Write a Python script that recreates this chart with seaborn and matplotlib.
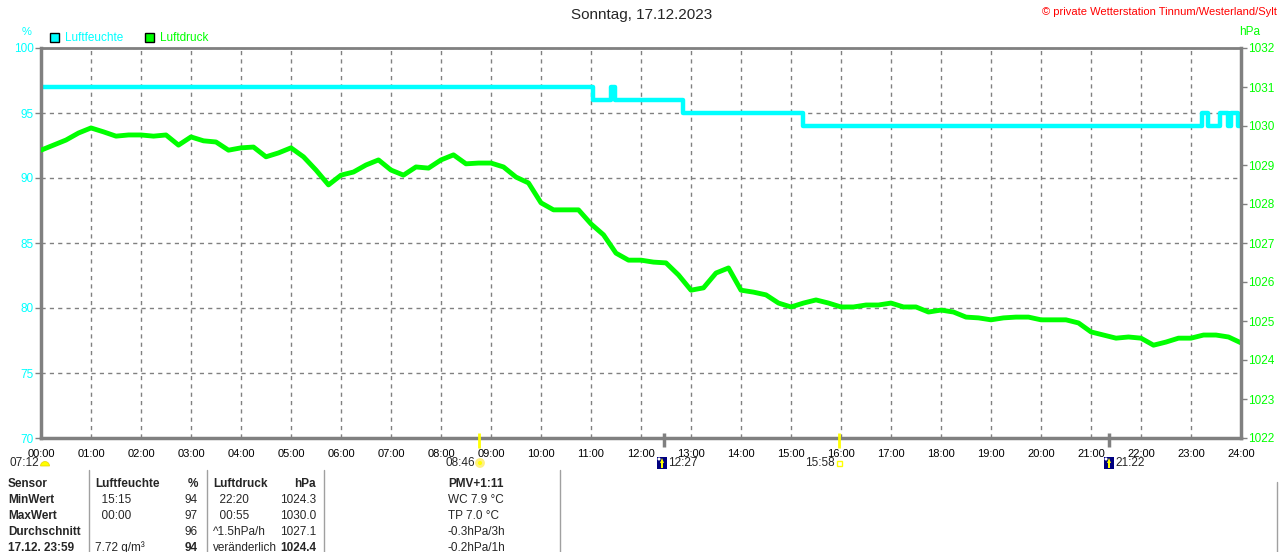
import seaborn as sns
import matplotlib.pyplot as plt
from matplotlib.patches import Rectangle, Wedge, Circle, Polygon

# Luftdruck alle 15 Minuten (hPa), 00:00 ... 24:00
druck_hpa = [
    1029.38, 1029.51, 1029.64, 1029.82,   # 00
    1029.95, 1029.85, 1029.74, 1029.77,   # 01
    1029.77, 1029.74, 1029.77, 1029.51,   # 02
    1029.72, 1029.62, 1029.59, 1029.38,   # 03
    1029.44, 1029.46, 1029.21, 1029.31,   # 04
    1029.44, 1029.21, 1028.87, 1028.49,   # 05
    1028.74, 1028.82, 1029.00, 1029.13,   # 06
    1028.87, 1028.74, 1028.95, 1028.92,   # 07
    1029.13, 1029.26, 1029.03, 1029.05,   # 08
    1029.05, 1028.95, 1028.69, 1028.54,   # 09
    1028.03, 1027.85, 1027.85, 1027.85,   # 10
    1027.49, 1027.21, 1026.74, 1026.56,   # 11
    1026.56, 1026.51, 1026.49, 1026.18,   # 12
    1025.79, 1025.85, 1026.23, 1026.36,   # 13
    1025.79, 1025.74, 1025.67, 1025.46,   # 14
    1025.36, 1025.46, 1025.54, 1025.46,   # 15
    1025.36, 1025.36, 1025.41, 1025.41,   # 16
    1025.46, 1025.36, 1025.36, 1025.23,   # 17
    1025.28, 1025.23, 1025.10, 1025.08,   # 18
    1025.03, 1025.08, 1025.10, 1025.10,   # 19
    1025.03, 1025.03, 1025.03, 1024.95,   # 20
    1024.72, 1024.64, 1024.56, 1024.59,   # 21
    1024.56, 1024.38, 1024.46, 1024.56,   # 22
    1024.56, 1024.64, 1024.64, 1024.59,   # 23
    1024.44,                              # 24
]
druck_zeit = [i / 4 for i in range(len(druck_hpa))]

# Luftfeuchte als Stufen (Stunde, %)
feuchte_zeit = [0.0, 11.03, 11.40, 11.47, 12.83, 15.23, 23.22, 23.34, 23.58, 23.74, 23.80, 23.94, 24.0]
feuchte_wert = [97, 96, 97, 96, 95, 94, 95, 94, 95, 94, 95, 94, 94]

stunden = list(range(25))
stunden_labels = [f"{h:02d}:00" for h in stunden]
feuchte_ticks = [70, 75, 80, 85, 90, 95, 100]
druck_ticks = list(range(1022, 1033))

# Sonne / Mond (Stunden)
sonne_auf = 8 + 46 / 60
sonne_unter = 15 + 58 / 60
mond_auf = 12 + 27 / 60
mond_unter = 21 + 22 / 60

CYAN = "#00ffff"
GRUEN = "#00ff00"
GRAU = "#808080"

sns.set_style("white")
plt.rcParams['font.family'] = ['Liberation Sans', 'DejaVu Sans']

W, H = 1280, 552

fig = plt.figure(figsize=(12.8, 5.52), dpi=100)
ax = fig.add_axes([41 / W, 1 - 438 / H, 1200 / W, 390 / H])
ax2 = ax.twinx()

sns.lineplot(x=feuchte_zeit, y=feuchte_wert, ax=ax, color=CYAN, lw=3.2,
             drawstyle="steps-post", estimator=None)
sns.lineplot(x=druck_zeit, y=druck_hpa, ax=ax2, color=GRUEN, lw=3.5, estimator=None)

ax.set_xlim(0, 24)
ax.set_ylim(70, 100)
ax2.set_ylim(1022, 1032)
ax.set_xticks(stunden)
ax.set_xticklabels(stunden_labels)
ax.set_yticks(feuchte_ticks)
ax2.set_yticks(druck_ticks)
ax.set_xlabel("")
ax.set_ylabel("")
ax2.set_ylabel("")

ax.grid(True, color=GRAU, ls=(0, (3, 3)), lw=1)
ax.tick_params(axis='x', length=0, pad=8, labelsize=8, labelcolor='black')
ax.tick_params(axis='y', length=4, width=1, color=GRAU, pad=1, labelsize=8.5, labelcolor=CYAN)
ax2.tick_params(axis='y', length=4, width=1, color=GRAU, pad=1, labelsize=8.5, labelcolor=GRUEN)

for name, s in ax.spines.items():
    s.set_color(GRAU)
    s.set_linewidth(2.5 if name != 'top' else 2)
ax.spines['right'].set_visible(False)
for name, s in ax2.spines.items():
    s.set_visible(name == 'right')
    s.set_color(GRAU)
    s.set_linewidth(2.5)

# Markierungen Sonne (gelb) und Mond (grau) auf der Zeitachse
xtrans = ax.get_xaxis_transform()
ax.vlines([sonne_auf, sonne_unter], -0.026, 0.013, colors="#ffff00", lw=2,
          transform=xtrans, clip_on=False, zorder=5)
ax.vlines([mond_auf, mond_unter], -0.024, 0.013, colors=GRAU, lw=2.5,
          transform=xtrans, clip_on=False, zorder=5)

# Overlay in Pixelkoordinaten fuer Texte und Symbole
ov = fig.add_axes([0, 0, 1, 1], zorder=10)
ov.set_xlim(0, W)
ov.set_ylim(H, 0)
ov.axis('off')
ov.patch.set_visible(False)

# Kopf
ov.text(642, 15, "Sonntag, 17.12.2023", ha='center', va='center', fontsize=11)
ov.text(1277, 12, "\u00a9 private Wetterstation Tinnum/Westerland/Sylt",
        ha='right', va='center', color='red', fontsize=8)
ov.text(27, 32, "%", ha='center', va='center', color=CYAN, fontsize=8)
ov.text(1250, 32, "hPa", ha='center', va='center', color=GRUEN, fontsize=8.5)

# Legende
for x0, col, lab in [(50, CYAN, "Luftfeuchte"), (145, GRUEN, "Luftdruck")]:
    ov.add_patch(Rectangle((x0, 33), 9, 9, fc=col, ec='black', lw=1))
    ov.text(x0 + 15, 38, lab, ha='left', va='center', color=col, fontsize=8.5)

# Zeiten Sonne / Mond unter der Achse
ev_y = 463
ov.text(9, ev_y, "07:12", ha='left', va='center', fontsize=8.5)
ov.add_patch(Wedge((45, 466), 4.5, 180, 360, fc="#ffff00", ec="#e8d000", lw=0.5))
ov.text(445, ev_y, "08:46", ha='left', va='center', fontsize=8.5)
ov.add_patch(Circle((480, 463), 3.5, fc="#ffff00", ec="#fff080", lw=2))
for x0, txt in [(657, "12:27"), (1104, "21:22")]:
    ov.add_patch(Rectangle((x0, 457), 10, 12, fc="#000080", ec="none"))
    ov.add_patch(Circle((x0 + 2, 459), 1.5, fc="white", ec="none"))
    ov.add_patch(Polygon([(x0 + 3, 463), (x0 + 7, 463), (x0 + 5, 458)],
                         closed=True, fc="#ffff00", ec="none"))
    ov.add_patch(Rectangle((x0 + 4.3, 462), 1.5, 6, fc="#ffff00", ec="none"))
    ov.text(x0 + 11, ev_y, txt, ha='left', va='center', fontsize=8.5)
ov.text(805, ev_y, "15:58", ha='left', va='center', fontsize=8.5)
ov.add_patch(Rectangle((837, 461), 5, 5, fc="none", ec="#ffff00", lw=1))

# Tabelle
for xs in [89, 207, 324, 560]:
    ov.plot([xs, xs], [470, H], color="#a0a0a0", lw=1)
ov.plot([1277, 1277], [482, H], color="#a0a0a0", lw=1)

zeilen_y = [484, 500, 516, 532, 548]
sp_sensor = ["Sensor", "MinWert", "MaxWert", "Durchschnitt", "17.12. 23:59"]
sp_fz = ["Luftfeuchte", "  15:15", "  00:00", "", "7.72 g/m\u00b3"]
sp_fw = ["%", "94", "97", "96", "94"]
sp_dz = ["Luftdruck", "  22:20", "  00:55", "^1.5hPa/h", "ver\u00e4nderlich"]
sp_dw = ["hPa", "1024.3", "1030.0", "1027.1", "1024.4"]
sp_pmv = ["PMV+1:11", "WC 7.9 \u00b0C", "TP 7.0 \u00b0C", "-0.3hPa/3h", "-0.2hPa/1h"]

for i, y in enumerate(zeilen_y):
    kopf = i == 0
    letzte = i == len(zeilen_y) - 1
    ov.text(8, y, sp_sensor[i], ha='left', va='center', fontsize=8.5, fontweight='bold')
    ov.text(95, y, sp_fz[i], ha='left', va='center', fontsize=8.5,
            fontweight='bold' if kopf else 'normal')
    ov.text(198, y, sp_fw[i], ha='right', va='center', fontsize=8.5,
            fontweight='bold' if (kopf or letzte) else 'normal')
    ov.text(213, y, sp_dz[i], ha='left', va='center', fontsize=8.5,
            fontweight='bold' if kopf else 'normal')
    ov.text(316, y, sp_dw[i], ha='right', va='center', fontsize=8.5,
            fontweight='bold' if (kopf or letzte) else 'normal')
    ov.text(448, y, sp_pmv[i], ha='left', va='center', fontsize=8.5,
            fontweight='bold' if kopf else 'normal')

fig.savefig("out.png", dpi=100)
